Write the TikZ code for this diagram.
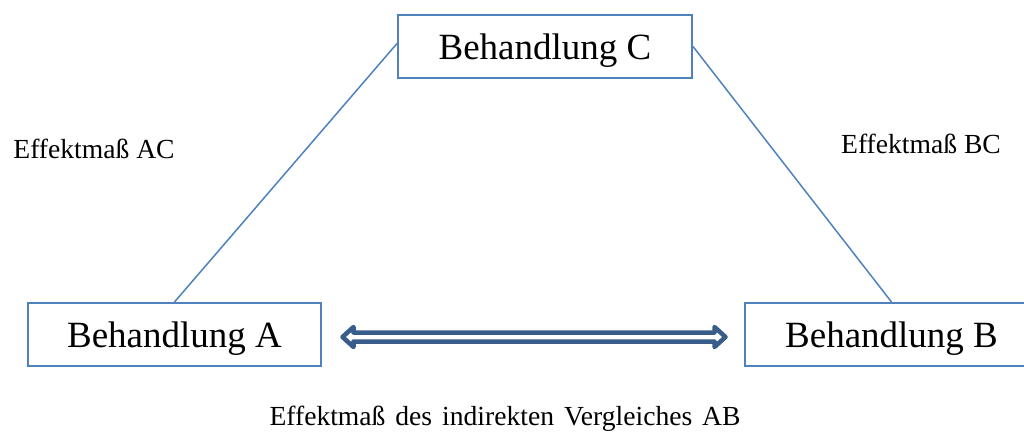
\documentclass[tikz,border=0pt]{standalone}
\usepackage{fontspec}
\setmainfont{Liberation Serif}
\usetikzlibrary{arrows.meta, positioning, calc}

\definecolor{boxblue}{HTML}{4F81BD}
\definecolor{arrowblue}{HTML}{385D8A}

\begin{document}
\begin{tikzpicture}[
		x=1pt, y=1pt,
		% Estilos
		box/.style={draw=boxblue, line width=2pt, rectangle, minimum width=293pt, minimum height=63pt, inner sep=0pt, text height=25.5pt, text depth=0pt, align=center, font=\fontsize{37}{44}\selectfont},
		label/.style={inner sep=0pt, font=\fontsize{27.6}{33}\selectfont},
		link/.style={draw=boxblue, line width=1.5pt},
		compare/.style={draw=arrowblue, line width=4.5pt, fill=white, line join=round}
		]
		\clip (0,0) rectangle (1024,437);
		
		% --- BEHANDLUNGEN ---
		\node [box] (A) at (174.5,102.5) {Behandlung A};
		\node [box, right=422pt of A] (B) {Behandlung B};
		\node [box, minimum width=294pt] (C) at (545,390.5) {Behandlung C};
		
		% --- EFFEKTMASSE ---
		\node [label] (ac) at (94,288) {Effektmaß AC};
		\node [label] (bc) at (921,293) {Effektmaß BC};
		\node [label] (ab) at (505,18) {\spaceskip=0.36em Effektmaß des indirekten Vergleiches AB};
		
		% --- VERBINDUNGEN ---
		\draw [link] (A.north) -- ($(C.west)+(0,3)$);
		\draw [link] (C.east) -- (B.north);
		
		% indirekter Vergleich (Doppelpfeil)
		\coordinate (abl) at ($(A.east)+(20.5,-2.5)$);
		\coordinate (abr) at ($(B.west)+(-18.5,-2.5)$);
		\draw [compare] (abl) -- ($(abl)+(11,10)$) -- ($(abl)+(11,4.5)$)
			-- ($(abr)+(-11,4.5)$) -- ($(abr)+(-11,10)$) -- (abr)
			-- ($(abr)+(-11,-10)$) -- ($(abr)+(-11,-4.5)$)
			-- ($(abl)+(11,-4.5)$) -- ($(abl)+(11,-10)$) -- cycle;
		
	\end{tikzpicture}
\end{document}
